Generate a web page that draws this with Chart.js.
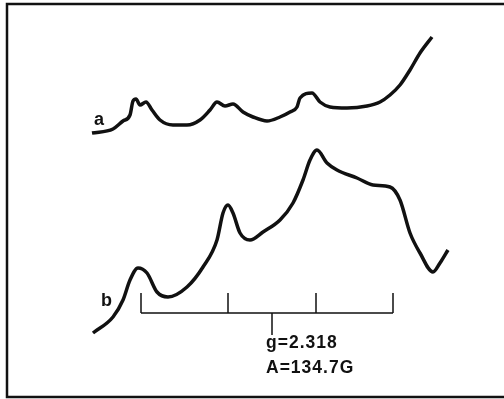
<!DOCTYPE html>
<html>
<head>
<meta charset="utf-8">
<script src="https://cdn.jsdelivr.net/npm/chart.js@4/dist/chart.umd.min.js"></script>
<style>
    html, body { margin: 0; padding: 0; background: #fff; }
    #wrap { width: 504px; height: 399px; position: relative; }
</style>
</head>
<body>
<div id="wrap"><canvas id="esrChart"></canvas></div>
<script>
// Спектр a (поле, интенсивность)
const fieldA = [92, 113, 123, 130, 133, 136, 140, 146, 152, 160, 173, 187, 200, 210, 217, 225, 233, 243, 253, 267, 280, 290, 297, 300, 312, 320, 330, 347, 367, 380, 390, 400, 410, 420, 432];
const signalA = [266, 270, 278, 284, 298, 300, 294, 297, 289, 279, 274, 274, 279, 289, 297, 293, 295, 287, 282, 278, 282, 287, 292, 301, 306, 297, 292, 291, 293, 297, 304, 314, 329, 346, 362];

// Спектр b
const fieldB = [93, 113, 123, 130, 138, 147, 157, 168, 187, 203, 217, 223, 228, 233, 240, 250, 263, 280, 293, 303, 310, 317, 327, 337, 357, 373, 390, 400, 410, 420, 433, 440, 448];
const signalB = [66, 82, 99, 119, 131, 126, 107, 102, 112, 132, 159, 186, 194, 186, 166, 159, 167, 179, 196, 219, 239, 249, 236, 229, 221, 214, 212, 199, 166, 146, 127, 136, 149];

// Шкала
const scaleTicks = [141, 228, 316, 393];
const scaleCenter = 272;
const scaleLevel = 86;
const scaleTickTop = 106;
const scaleCenterBottom = 64;
const gLabel = 'g=2.318';
const aLabel = 'A=134.7G';

const ink = '#111111';

function toPoints(xs, ys) {
    return xs.map((x, i) => ({ x: x, y: ys[i] }));
}

// Рамка шкалы: горизонталь + засечки
const scalePoints = [{ x: scaleTicks[0], y: scaleLevel }, { x: scaleTicks[scaleTicks.length - 1], y: scaleLevel }, { x: NaN, y: NaN }];
scaleTicks.forEach(t => {
    scalePoints.push({ x: t, y: scaleLevel }, { x: t, y: scaleTickTop }, { x: NaN, y: NaN });
});
scalePoints.push({ x: scaleCenter, y: scaleLevel }, { x: scaleCenter, y: scaleCenterBottom });

const boxAndText = {
    id: 'boxAndText',
    afterDraw(chart) {
        const ctx = chart.ctx;
        const xs = chart.scales.x;
        const ys = chart.scales.y;
        ctx.save();
        ctx.strokeStyle = ink;
        ctx.lineWidth = 2.5;
        ctx.beginPath();
        ctx.moveTo(504, 4);
        ctx.lineTo(7, 4);
        ctx.lineTo(7, 397);
        ctx.lineTo(504, 397);
        ctx.stroke();

        ctx.fillStyle = ink;
        ctx.font = 'bold 18px "Liberation Sans", Arial, sans-serif';
        ctx.textBaseline = 'alphabetic';
        ctx.fillText('a', xs.getPixelForValue(94), ys.getPixelForValue(274));
        ctx.fillText('b', xs.getPixelForValue(101), ys.getPixelForValue(93));

        ctx.font = 'bold 17.5px "Liberation Sans", Arial, sans-serif';
        if ('letterSpacing' in ctx) ctx.letterSpacing = '1px';
        ctx.fillText(gLabel, xs.getPixelForValue(scaleCenter - 6), ys.getPixelForValue(51));
        ctx.fillText(aLabel, xs.getPixelForValue(scaleCenter - 6), ys.getPixelForValue(26));
        ctx.restore();
    }
};

new Chart(document.getElementById('esrChart'), {
    type: 'line',
    data: {
        datasets: [
            {
                label: 'a',
                data: toPoints(fieldA, signalA),
                borderColor: ink,
                borderWidth: 3.5,
                pointRadius: 0,
                cubicInterpolationMode: 'monotone',
                fill: false
            },
            {
                label: 'b',
                data: toPoints(fieldB, signalB),
                borderColor: ink,
                borderWidth: 3.5,
                pointRadius: 0,
                cubicInterpolationMode: 'monotone',
                fill: false
            },
            {
                label: 'scale',
                data: scalePoints,
                borderColor: ink,
                borderWidth: 1.5,
                pointRadius: 0,
                tension: 0,
                spanGaps: false,
                fill: false
            }
        ]
    },
    options: {
        responsive: true,
        maintainAspectRatio: false,
        animation: false,
        layout: { padding: 0 },
        scales: {
            x: { type: 'linear', min: 0, max: 504, display: false },
            y: { type: 'linear', min: 0, max: 399, display: false }
        },
        plugins: {
            legend: { display: false },
            tooltip: { enabled: false }
        }
    },
    plugins: [boxAndText]
});
</script>
</body>
</html>
